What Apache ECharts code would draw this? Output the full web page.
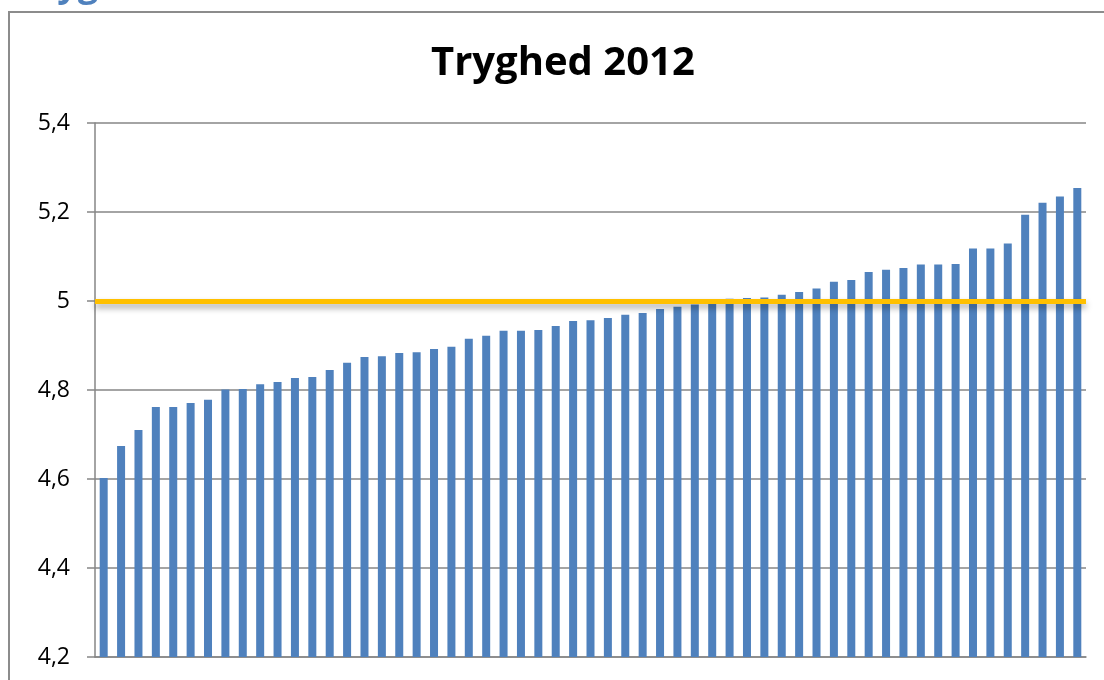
<!DOCTYPE html>
<html lang="da" style="height: 100%">
<head>
    <meta charset="utf-8">
</head>
<body style="height: 100%; margin: 0; background: #fff">
<div id="main" style="width: 1104px; height: 680px"></div>

<script type="text/javascript" src="https://cdn.jsdelivr.net/npm/echarts@6/dist/echarts.min.js"></script>

<script type="text/javascript">
    // Tryghed 2012 - en søjle pr. enhed, sorteret stigende
    var values = [
        4.602, 4.674, 4.710, 4.762, 4.762, 4.771, 4.778, 4.801, 4.802, 4.813,
        4.818, 4.827, 4.829, 4.845, 4.861, 4.874, 4.876, 4.883, 4.885, 4.892,
        4.897, 4.915, 4.922, 4.933, 4.933, 4.935, 4.944, 4.955, 4.957, 4.962,
        4.969, 4.973, 4.982, 4.987, 4.992, 4.995, 5.005, 5.007, 5.008, 5.014,
        5.020, 5.028, 5.043, 5.047, 5.065, 5.070, 5.074, 5.082, 5.082, 5.083,
        5.118, 5.118, 5.129, 5.194, 5.221, 5.235, 5.254
    ];
    var categories = values.map(function (v, i) { return String(i + 1); });
    var referenceLevel = 5;

    var chartDom = document.getElementById('main');
    var myChart = echarts.init(chartDom);
    var option;

    option = {
        animation: false,
        backgroundColor: '#ffffff',
        title: {
            text: 'Tryghed 2012',
            left: 426,
            top: 39,
            textStyle: {
                fontFamily: 'Open Sans',
                fontWeight: 'bold',
                fontSize: 40,
                color: '#000'
            }
        },
        graphic: [
            {
                type: 'rect',
                shape: { x: 9, y: 12, width: 1200, height: 800 },
                style: { fill: 'none', stroke: '#8c8c8c', lineWidth: 2 }
            },
            {
                type: 'text',
                x: 20,
                y: 4,
                style: {
                    text: 'Tryghed',
                    font: 'bold 36px Open Sans',
                    fill: '#4f81bd',
                    textVerticalAlign: 'bottom'
                }
            }
        ],
        grid: {
            left: 95,
            right: 18,
            top: 123,
            bottom: 23
        },
        xAxis: {
            type: 'category',
            data: categories,
            axisLine: { lineStyle: { color: '#868686', width: 1.5 } },
            axisTick: { show: false },
            axisLabel: { show: false }
        },
        yAxis: {
            type: 'value',
            min: 4.2,
            max: 5.4,
            interval: 0.2,
            axisLine: { show: true, lineStyle: { color: '#868686', width: 1.5 } },
            axisTick: { show: true, length: 8, lineStyle: { color: '#868686', width: 1.5 } },
            splitLine: { lineStyle: { color: '#868686', width: 1.5 } },
            axisLabel: {
                margin: 25,
                fontFamily: 'Open Sans',
                fontSize: 23,
                color: '#000',
                formatter: function (v) {
                    return String(Math.round(v * 10) / 10).replace('.', ',');
                }
            }
        },
        series: [
            {
                type: 'bar',
                data: values,
                barWidth: 8,
                itemStyle: { color: '#4f81bd' },
                markLine: {
                    silent: true,
                    symbol: 'none',
                    label: { show: false },
                    lineStyle: {
                        type: 'solid',
                        color: '#ffc000',
                        width: 5,
                        shadowColor: 'rgba(0,0,0,0.35)',
                        shadowBlur: 6,
                        shadowOffsetY: 4
                    },
                    data: [{ yAxis: referenceLevel }]
                }
            }
        ]
    };

    option && myChart.setOption(option);
</script>
</body>
</html>
